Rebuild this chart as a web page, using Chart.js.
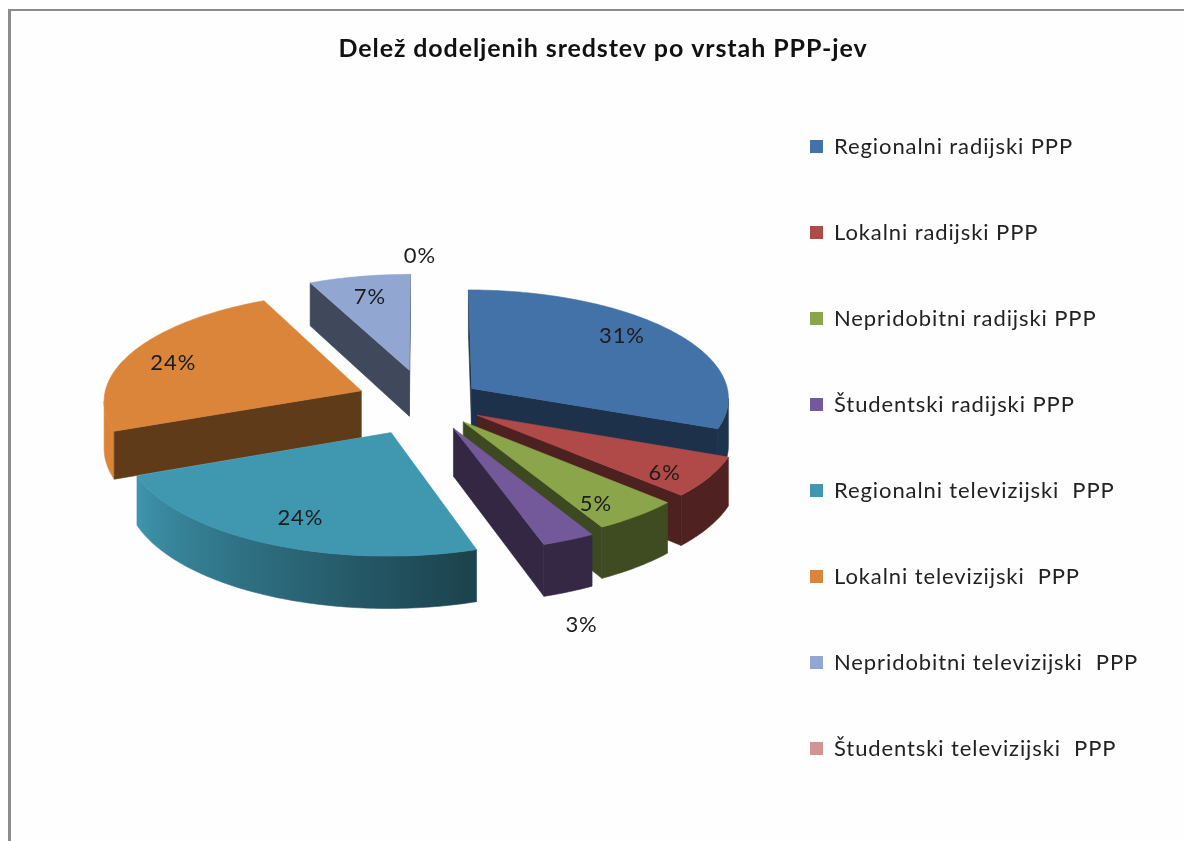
<!DOCTYPE html>
<html><head><meta charset="utf-8">
<script src="https://cdn.jsdelivr.net/npm/chart.js@4"></script>
<style>
html,body{margin:0;padding:0;width:1184px;height:841px;overflow:hidden;background:#fff}
#frame{position:absolute;left:8px;top:9px;width:1176px;height:832px;box-sizing:border-box;border-left:3px solid #8c8c8c;border-top:2px solid #8c8c8c;background:#fefefe}
#wrap{position:absolute;left:10px;top:10px;width:1186px;height:831px}
</style></head><body>
<div id="frame"></div>
<div id="wrap"><canvas id="c" width="1186" height="831"></canvas></div>
<script>
const titleText = 'Delež dodeljenih sredstev po vrstah PPP-jev';
const categories = ['Regionalni radijski PPP','Lokalni radijski PPP','Nepridobitni radijski PPP','Študentski radijski PPP','Regionalni televizijski  PPP','Lokalni televizijski  PPP','Nepridobitni televizijski  PPP','Študentski televizijski  PPP'];
const shares = [31,6,5,3,24,24,7,0];
const colors = ['#4272a8','#b04a48','#8ba64a','#74599a','#3f97b0','#db853a','#91a7d1','#d09594'];
const explode = [56,60,60,68,80,70,78,88];
const labelRadius = [0.66,0.86,0.84,1.22,0.62,0.78,0.82,1.3];
const labelNudge = [[16,-14],[-11,5],[-12,4],[-15,58],[-16,19],[-8,2],[2,5],[-6,12]];

const P = {k:0.42, p:0.08, depth:47, dx:24, dy:-56, legendLeft:736, legendDown:22};

function shade(hex,f){
  const n=parseInt(hex.slice(1),16);
  return 'rgb('+[(n>>16)&255,(n>>8)&255,n&255].map(c=>Math.round(c*f)).join(',')+')';
}
function wallFactor(deg){
  const t=Math.max(0,Math.min(1,(deg-165)/(250-165)));
  return 0.45+0.55*t;
}
function project(el,u,v,z){
  const s=1/(1-P.p*v), R=el.outerRadius;
  return [el.x+P.dx+s*u*R, el.y+P.dy+s*(v*P.k*R+z)];
}
function poly(ctx,pts,fill){
  ctx.beginPath();
  pts.forEach((p,i)=>i?ctx.lineTo(p[0],p[1]):ctx.moveTo(p[0],p[1]));
  ctx.closePath();
  ctx.fillStyle=fill;ctx.strokeStyle=fill;ctx.lineWidth=0.6;
  ctx.fill();ctx.stroke();
}
function area(q){let a=0;for(let i=0;i<q.length;i++){const b=q[(i+1)%q.length];a+=q[i][0]*b[1]-b[0]*q[i][1];}return a/2;}
function pointAt(el,off,a,r,z){
  const mid=(el.startAngle+el.endAngle)/2, R=el.outerRadius;
  const u=Math.cos(a)*r+Math.cos(mid)*off/R;
  const v=Math.sin(a)*r+Math.sin(mid)*off/R;
  return project(el,u,v,z);
}
const pie3d={
  id:'pie3d',
  beforeLayout(chart){ chart.ctx.letterSpacing='0.9px'; },
  afterLayout(chart){
    const lg=chart.legend;
    lg.left=P.legendLeft; lg.top+=P.legendDown; lg.bottom+=P.legendDown;
  },
  beforeDatasetDraw(chart,args){
    const ctx=chart.ctx, meta=args.meta, d=P.depth;
    const arcs=meta.data.map((el,i)=>({el,i})).filter(o=>shares[o.i]>0);
    arcs.sort((a,b)=>Math.sin((a.el.startAngle+a.el.endAngle)/2)-Math.sin((b.el.startAngle+b.el.endAngle)/2));
    for(const {el,i} of arcs){
      const off=el.options.offset, col=colors[i];
      const n=Math.max(4,Math.ceil((el.endAngle-el.startAngle)*60));
      const rim=[];for(let j=0;j<=n;j++)rim.push(el.startAngle+(el.endAngle-el.startAngle)*j/n);
      const top=a=>pointAt(el,off,a,1,0), bot=a=>pointAt(el,off,a,1,d);
      const c0=pointAt(el,off,0,0,0), c1=pointAt(el,off,0,0,d);
      const cuts=[[c0,top(rim[0]),bot(rim[0]),c1],[top(rim[n]),c0,c1,bot(rim[n])]];
      const vis=[];
      for(let j=0;j<n;j++){
        if(area([top(rim[j]),top(rim[j+1]),bot(rim[j+1]),bot(rim[j])])<0){
          if(!vis.length)vis.push(rim[j]);
          vis.push(rim[j+1]);
        }
      }
      if(vis.length>1){
        const xs=vis.map(a=>top(a)[0]), x0=Math.min(...xs), x1=Math.max(...xs);
        const g=ctx.createLinearGradient(x0,0,x1,0);
        vis.forEach((a,j)=>{
          const deg=((a+Math.PI/2)*180/Math.PI+720)%360;
          g.addColorStop((xs[j]-x0)/(x1-x0||1),shade(col,wallFactor(deg)));
        });
        poly(ctx,[...vis.map(top),...vis.slice().reverse().map(bot)],g);
      }
      cuts.forEach(q=>{if(area(q)<0)poly(ctx,q,shade(col,0.44));});
      poly(ctx,[c0,...rim.map(top)],col);
    }
    ctx.save();
    ctx.font='22px Lato';ctx.fillStyle='#1c1c1c';ctx.textAlign='center';ctx.textBaseline='middle';
    meta.data.forEach((el,i)=>{
      const mid=(el.startAngle+el.endAngle)/2;
      const p=pointAt(el,el.options.offset,mid,labelRadius[i],0);
      ctx.fillText(shares[i]+'%',p[0]+labelNudge[i][0],p[1]+labelNudge[i][1]);
    });
    ctx.restore();
    return false;
  }
};
new Chart(document.getElementById('c'),{
  type:'pie',
  data:{labels:categories,datasets:[{data:shares,backgroundColor:colors,offset:explode,borderWidth:0}]},
  options:{
    responsive:false,animation:false,radius:258,
    plugins:{
      tooltip:{enabled:false},
      title:{display:true,text:titleText,color:'#111',font:{family:'Lato',size:25,weight:'bold'},padding:{top:24,bottom:10}},
      legend:{position:'right',labels:{color:'#222',font:{family:'Lato',size:22},boxWidth:13,boxHeight:13,padding:64}}
    }
  },
  plugins:[pie3d]
});
</script>
</body></html>
